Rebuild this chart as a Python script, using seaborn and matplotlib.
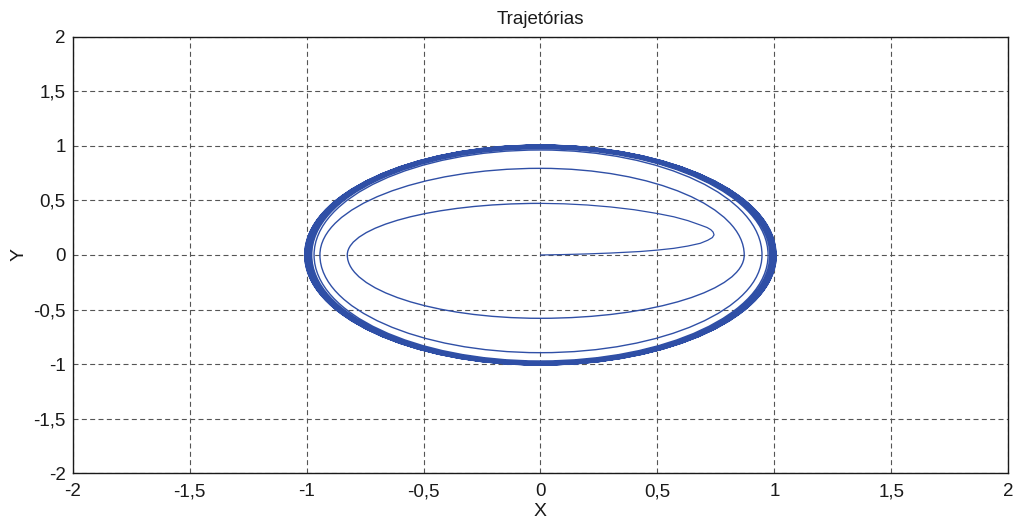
import numpy as np
import pandas as pd
import matplotlib
matplotlib.use("Agg")
import matplotlib.pyplot as plt
from matplotlib.path import Path
from matplotlib.patches import PathPatch
import seaborn as sns

# Initial stroke of the trajectory: from the origin out to the hairpin and back to the top
head_x = [0.0, 0.1, 0.2, 0.3, 0.427, 0.5, 0.57, 0.63, 0.683, 0.715, 0.735, 0.742,
          0.738, 0.728, 0.712, 0.683, 0.63, 0.57, 0.5, 0.4, 0.3, 0.2, 0.1, 0.0]
head_y = [0.0, 0.004, 0.01, 0.018, 0.032, 0.045, 0.061, 0.082, 0.107, 0.135, 0.16, 0.185,
          0.21, 0.232, 0.252, 0.275, 0.315, 0.35, 0.38, 0.415, 0.44, 0.458, 0.469, 0.473]

# Axis crossings of each turn of the spiral (counter-clockwise), converging to the limit cycle
top_y = [0.473, 0.794, 0.962, 0.976, 0.981, 0.985, 0.989, 0.992, 0.995, 0.997, 0.999, 1.001, 1.003, 1.004, 1.005, 1.006, 1.007]
left_x = [-0.826, -0.943, -0.968, -0.978, -0.983, -0.987, -0.991, -0.994, -0.996, -0.998, -1.0, -1.002, -1.004, -1.005, -1.006, -1.007, -1.008]
bottom_y = [-0.58, -0.895, -0.971, -0.979, -0.984, -0.988, -0.992, -0.995, -0.997, -0.999, -1.001, -1.003, -1.004, -1.005, -1.006, -1.007, -1.008]
right_x = [0.871, 0.947, 0.973, 0.980, 0.985, 0.989, 0.993, 0.995, 0.997, 0.999, 1.001, 1.003, 1.004, 1.005, 1.006, 1.007, 1.008]

ticks = [-2, -1.5, -1, -0.5, 0, 0.5, 1, 1.5, 2]
tick_labels = ["-2", "-1,5", "-1", "-0,5", "0", "0,5", "1", "1,5", "2"]

LINE = "#2f4fa6"
INK = "#1a1a1a"

sns.set_theme(style="white")
plt.rcParams["font.family"] = ["Liberation Sans", "DejaVu Sans"]

fig = plt.figure(figsize=(10.15, 5.22), dpi=100)
ax = fig.add_axes([0.0716, 0.0933, 0.9218, 0.8364])

# Initial stroke
head = pd.DataFrame({"x": head_x, "y": head_y})
sns.lineplot(data=head, x="x", y="y", sort=False, estimator=None, color=LINE,
             linewidth=0.9, ax=ax)

# Spiral turns: quarter arcs between successive axis crossings
crossings = []
for t, l, b, r in zip(top_y, left_x, bottom_y, right_x):
    crossings += [(0.0, t), (l, 0.0), (0.0, b), (r, 0.0)]
k = 0.5523
verts = [crossings[0]]
codes = [Path.MOVETO]
for (x0, y0), (x1, y1) in zip(crossings[:-1], crossings[1:]):
    verts += [(x0 + k * x1, y0 + k * y1), (x1 + k * x0, y1 + k * y0), (x1, y1)]
    codes += [Path.CURVE4] * 3
ax.add_patch(PathPatch(Path(verts, codes), fill=False, edgecolor=LINE, linewidth=1.0))

ax.set_xlim(-2, 2)
ax.set_ylim(-2, 2)
ax.set_xticks(ticks)
ax.set_xticklabels(tick_labels)
ax.set_yticks(ticks)
ax.set_yticklabels(tick_labels)
ax.tick_params(axis="both", labelsize=13.5, colors=INK, length=0)
ax.tick_params(axis="x", pad=7)
ax.tick_params(axis="y", pad=5)

ax.grid(True, color="#555555", linestyle=(0, (4.5, 3)), linewidth=0.8)
for s in ax.spines.values():
    s.set_visible(True)
    s.set_color(INK)
    s.set_linewidth(1.0)

ax.set_title("Trajetórias", fontsize=13.5, color=INK, pad=9)
ax.set_xlabel("X", fontsize=14, color=INK, labelpad=2)
ax.set_ylabel("Y", fontsize=14, color=INK, labelpad=4)

fig.savefig("out.png", dpi=100, facecolor="white")
